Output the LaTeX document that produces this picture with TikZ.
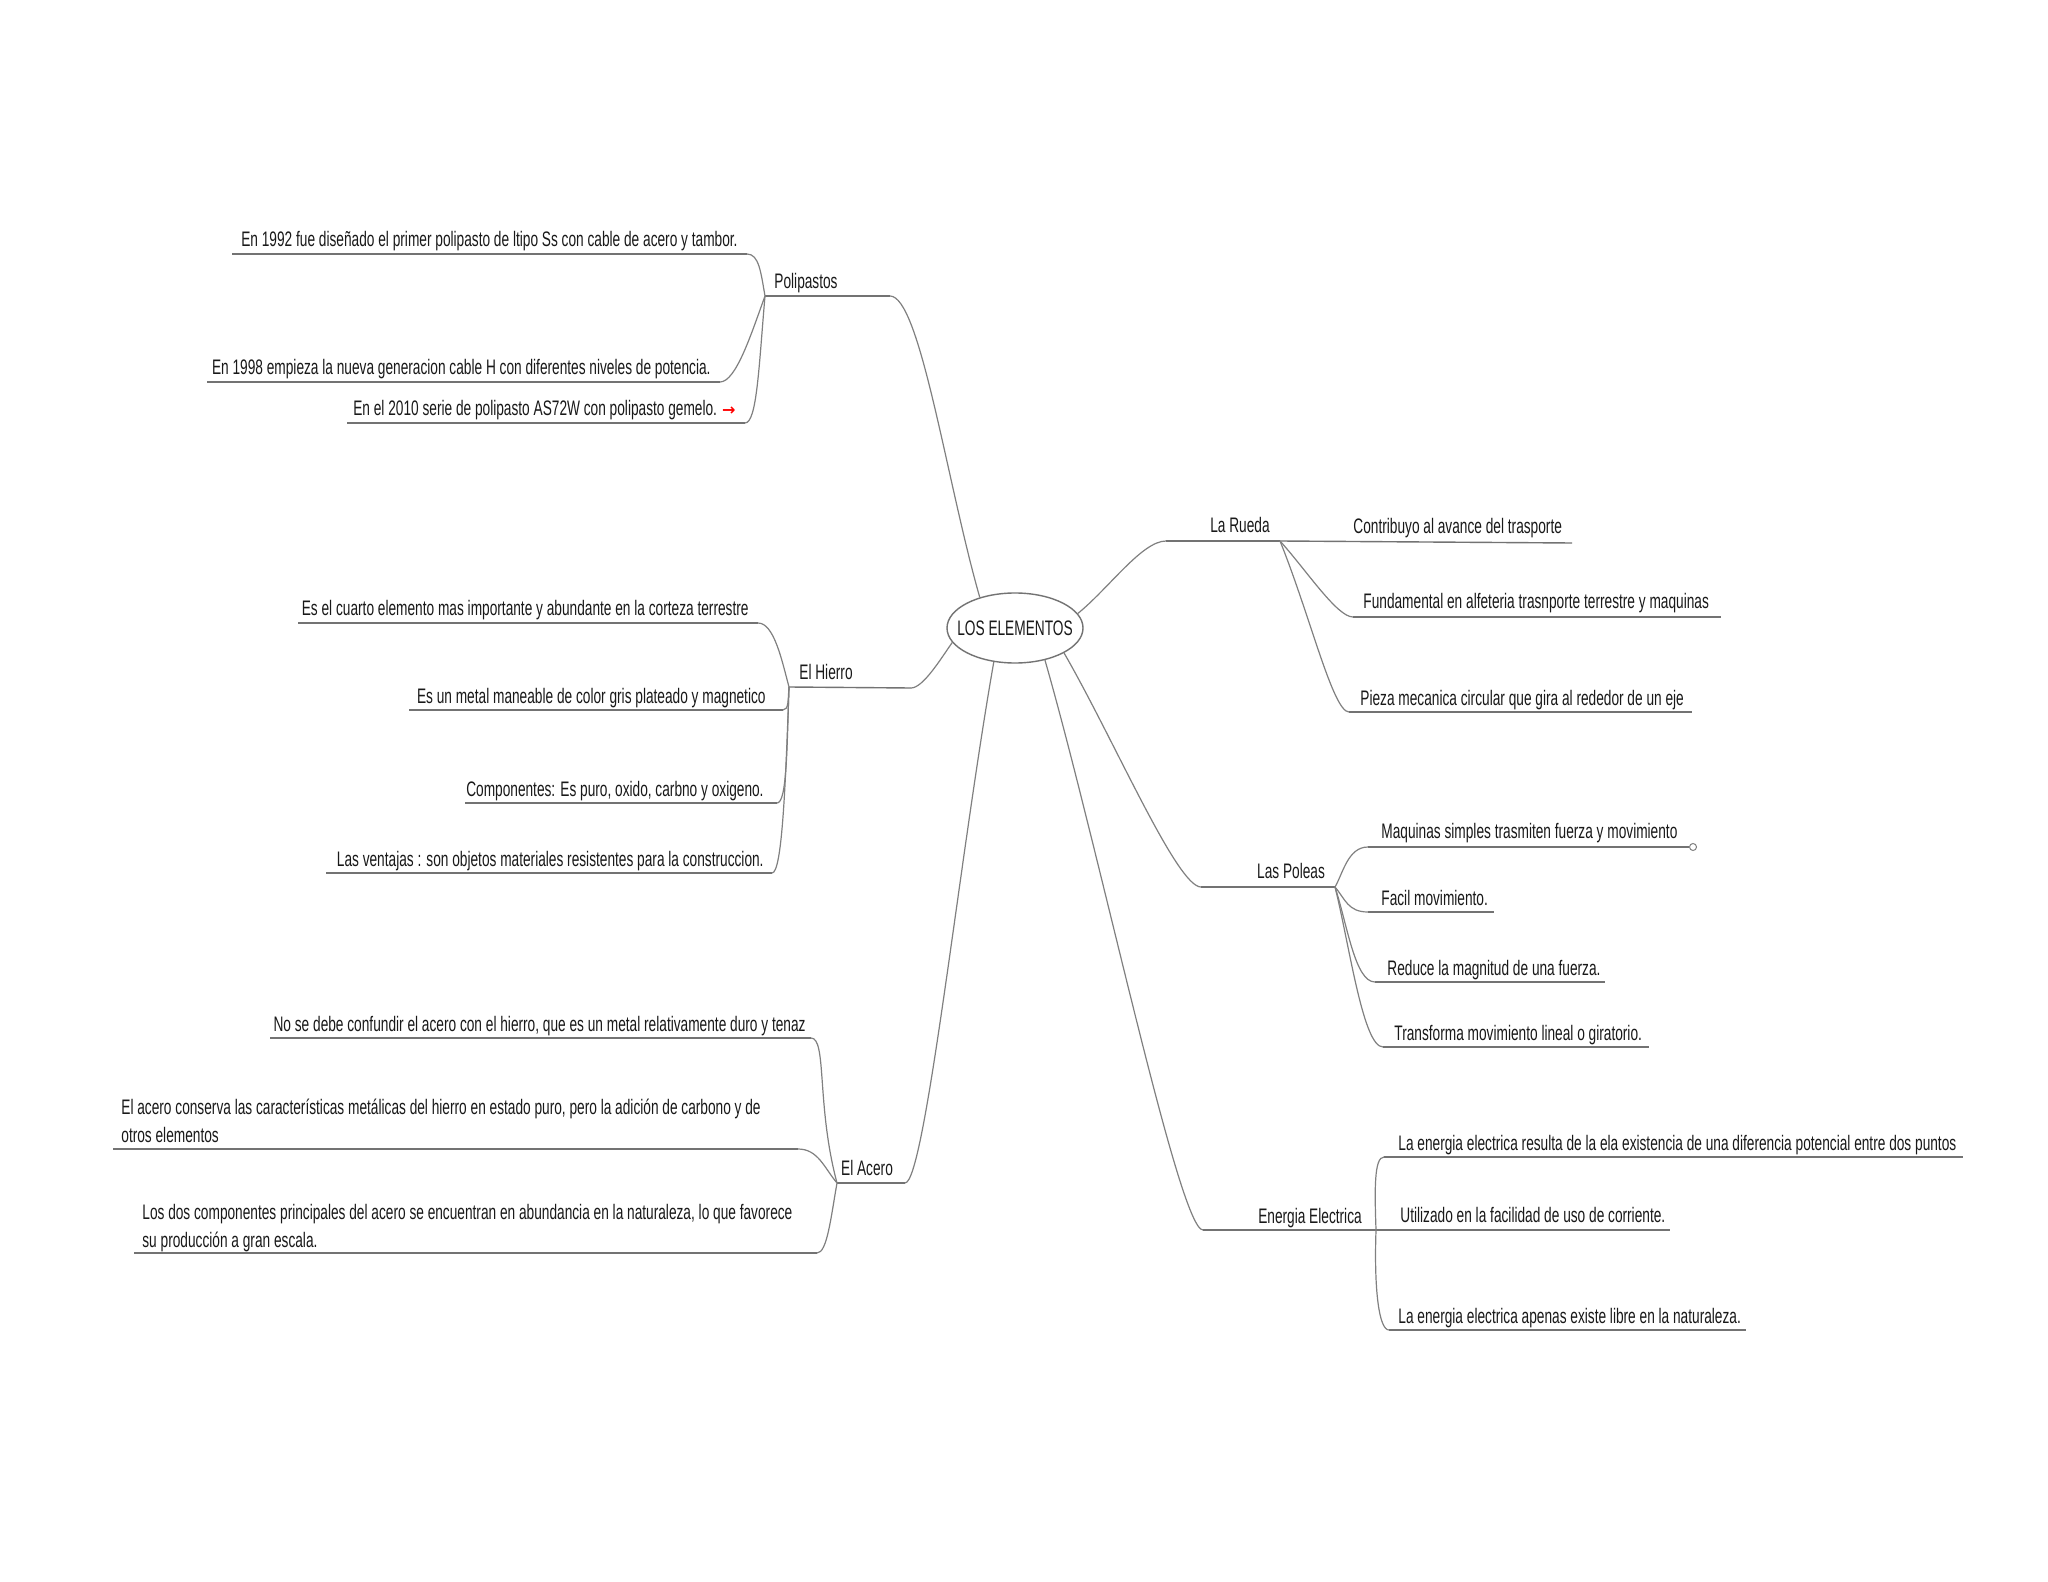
\documentclass[tikz,border=0pt]{standalone}
\usepackage{fontspec}
\setmainfont{Liberation Sans}[FakeStretch=0.652]
\newfontfamily\symfont{DejaVu Sans}
\usetikzlibrary{shapes.geometric}
\begin{document}
\begin{tikzpicture}[x=0.5pt,y=0.5pt,
  conn/.style={draw=black!50, line width=0.6pt},
  uline/.style={draw=black!55, line width=0.7pt},
  txt/.style={inner sep=0pt, text=black!90, font=\fontsize{10.5}{14}\selectfont},
]
\useasboundingbox[fill=white] (0,0) rectangle (2048,-1582);

% central node
\node[ellipse, draw=black!55, line width=0.7pt, minimum width=68pt, minimum height=35pt, inner sep=0pt] (ell) at (1015,-628) {};
\node[txt] (elltxt) at (ell.center) {LOS ELEMENTOS};

% ---------------- Polipastos
\coordinate (polL) at (765,-296); \coordinate (polR) at (890,-296);
\node[txt, anchor=base] (pol) at (806,-289) {Polipastos};
\coordinate (c1L) at (232,-254); \coordinate (c1R) at (747,-254);
\node[txt, anchor=base east] (c1) at (738,-247) {En 1992 fue diseñado el primer polipasto de ltipo Ss con cable de acero y tambor.};
\coordinate (c2L) at (207,-382); \coordinate (c2R) at (720,-382);
\node[txt, anchor=base east] (c2) at (711,-375) {En 1998 empieza la nueva generacion cable H con diferentes niveles de potencia.};
\coordinate (c3L) at (347,-423); \coordinate (c3R) at (745,-423);
\node[txt, anchor=base east] (c3) at (736,-416) {En el 2010 serie de polipasto AS72W con polipasto gemelo. {\symfont\bfseries\fontsize{8}{8}\selectfont\color{red}→}};

% ---------------- El Hierro
\coordinate (hieL) at (789,-687); \coordinate (hieR) at (911,-688);
\node[txt, anchor=base] (hie) at (826,-679) {El Hierro};
\coordinate (h1L) at (298,-623); \coordinate (h1R) at (758,-623);
\node[txt, anchor=base east] (h1) at (749,-616) {Es el cuarto elemento mas importante y abundante en la corteza terrestre};
\coordinate (h2L) at (409,-710); \coordinate (h2R) at (783,-710);
\node[txt, anchor=base east] (h2) at (766,-703) {Es un metal maneable de color gris plateado y magnetico};
\coordinate (h3L) at (465,-803); \coordinate (h3R) at (777,-803);
\node[txt, anchor=base east] (h3) at (764,-796) {Componentes: Es puro, oxido, carbno y oxigeno.};
\coordinate (h4L) at (326,-873); \coordinate (h4R) at (772,-873);
\node[txt, anchor=base east] (h4) at (764,-866) {Las ventajas : son objetos materiales resistentes para la construccion.};

% ---------------- El Acero
\coordinate (acL) at (837,-1183); \coordinate (acR) at (905,-1183);
\node[txt, anchor=base] (ac) at (867,-1175) {El Acero};
\coordinate (a1L) at (270,-1038); \coordinate (a1R) at (811,-1038);
\node[txt, anchor=base east] (a1) at (806,-1031) {No se debe confundir el acero con el hierro, que es un metal relativamente duro y tenaz};
\coordinate (a2L) at (113,-1149); \coordinate (a2R) at (798,-1149);
\node[txt, anchor=base west] (a2) at (121,-1142) {\parbox[b]{420pt}{\raggedright El acero conserva las características metálicas del hierro en estado puro, pero la adición de carbono y de\\otros elementos}};
\coordinate (a3L) at (134,-1253); \coordinate (a3R) at (817,-1253);
\node[txt, anchor=base west] (a3) at (142,-1247) {\parbox[b]{420pt}{\raggedright Los dos componentes principales del acero se encuentran en abundancia en la naturaleza, lo que favorece\\su producción a gran escala.}};

% ---------------- La Rueda
\coordinate (ruL) at (1166,-541); \coordinate (ruR) at (1280,-541);
\node[txt, anchor=base] (ru) at (1240,-533) {La Rueda};
\coordinate (r1R) at (1572,-543);
\node[txt, anchor=base west] (r1) at (1353,-534) {Contribuyo al avance del trasporte};
\coordinate (r2L) at (1353,-617); \coordinate (r2R) at (1721,-617);
\node[txt, anchor=base west] (r2) at (1363,-608) {Fundamental en alfeteria trasnporte terrestre y maquinas};
\coordinate (r3L) at (1349,-712); \coordinate (r3R) at (1692,-712);
\node[txt, anchor=base west] (r3) at (1360,-705) {Pieza mecanica circular que gira al rededor de un eje};

% ---------------- Las Poleas
\coordinate (poL) at (1201,-887); \coordinate (poR) at (1335,-887);
\node[txt, anchor=base] (po) at (1291,-878) {Las Poleas};
\coordinate (p1L) at (1368,-847);
\node[circle, draw=black!50, line width=0.5pt, fill=white, inner sep=0pt, minimum size=3.5pt] (p1end) at (1693,-847) {};
\node[txt, anchor=base west] (p1) at (1381,-838) {Maquinas simples trasmiten fuerza y movimiento};
\coordinate (p2L) at (1368,-912); \coordinate (p2R) at (1494,-912);
\node[txt, anchor=base west] (p2) at (1381,-905) {Facil movimiento.};
\coordinate (p3L) at (1375,-982); \coordinate (p3R) at (1605,-982);
\node[txt, anchor=base west] (p3) at (1387,-975) {Reduce la magnitud de una fuerza.};
\coordinate (p4L) at (1383,-1047); \coordinate (p4R) at (1649,-1047);
\node[txt, anchor=base west] (p4) at (1394,-1040) {Transforma movimiento lineal o giratorio.};

% ---------------- Energia Electrica
\coordinate (enL) at (1203,-1230); \coordinate (enR) at (1376,-1230);
\node[txt, anchor=base] (en) at (1310,-1223) {Energia Electrica};
\coordinate (e1L) at (1384,-1157); \coordinate (e1R) at (1963,-1157);
\node[txt, anchor=base west] (e1) at (1398,-1150) {La energia electrica resulta de la ela existencia de una diferencia potencial entre dos puntos};
\coordinate (e2R) at (1670,-1230);
\node[txt, anchor=base west] (e2) at (1400,-1222) {Utilizado en la facilidad de uso de corriente.};
\coordinate (e3L) at (1389,-1330); \coordinate (e3R) at (1746,-1330);
\node[txt, anchor=base west] (e3) at (1398,-1323) {La energia electrica apenas existe libre en la naturaleza.};

% ---------------- underlines
\foreach \a/\b in {polL/polR, c1L/c1R, c2L/c2R, c3L/c3R, hieL/hieR, h1L/h1R, h2L/h2R, h3L/h3R, h4L/h4R,
  acL/acR, a1L/a1R, a2L/a2R, a3L/a3R, ruL/ruR, ruR/r1R, r2L/r2R, r3L/r3R, poL/poR, p1L/p1end.west,
  p2L/p2R, p3L/p3R, p4L/p4R, enL/enR, e1L/e1R, enR/e2R, e3L/e3R}
  \draw[uline] (\a) -- (\b);

% ---------------- main branches
\draw[conn] (polR) to[out=0,in=106,out distance=15pt,in distance=60pt] (ell.139);
\draw[conn] (hieR) to[out=0,in=235,out distance=6pt,in distance=10pt] (ell.193);
\draw[conn] (acR) to[out=0,in=260,out distance=10pt,in distance=100pt] (ell.238);
\draw[conn] (ell.13) to[out=39,in=180,out distance=20pt,in distance=12pt] (ruL);
\draw[conn] (ell.333) to[out=-60,in=180,out distance=50pt,in distance=12pt] (poL);
\draw[conn] (ell.313) to[out=-74,in=180,out distance=100pt,in distance=12pt] (enL);

% ---------------- sub branches (left)
\draw[conn] (c1R) to[out=0,in=100,out distance=6pt,in distance=12pt] (polL);
\draw[conn] (c2R) to[out=0,in=250,out distance=8pt,in distance=20pt] (polL);
\draw[conn] (c3R) to[out=0,in=265,out distance=6pt,in distance=35pt] (polL);
\draw[conn] (h1R) to[out=0,in=105,out distance=8pt,in distance=14pt] (hieL);
\draw[conn] (h2R) to[out=0,in=265,out distance=3pt,in distance=6pt] (hieL);
\draw[conn] (h3R) to[out=0,in=268,out distance=5pt,in distance=30pt] (hieL);
\draw[conn] (h4R) to[out=0,in=268,out distance=5pt,in distance=50pt] (hieL);
\draw[conn] (a1R) to[out=0,in=105,out distance=8pt,in distance=40pt] (acL);
\draw[conn] (a2R) to[out=0,in=130,out distance=10pt,in distance=10pt] (acL);
\draw[conn] (a3R) to[out=0,in=260,out distance=5pt,in distance=18pt] (acL);

% ---------------- sub branches (right)
\draw[conn] (ruR) to[out=-48,in=180,out distance=20pt,in distance=8pt] (r2L);
\draw[conn] (ruR) to[out=-68,in=180,out distance=40pt,in distance=8pt] (r3L);
\draw[conn] (poR) to[out=60,in=180,out distance=8pt,in distance=10pt] (p1L);
\draw[conn] (poR) to[out=-50,in=180,out distance=8pt,in distance=10pt] (p2L);
\draw[conn] (poR) to[out=-72,in=180,out distance=20pt,in distance=10pt] (p3L);
\draw[conn] (poR) to[out=-76,in=180,out distance=30pt,in distance=10pt] (p4L);
\draw[conn] (enR) to[out=92,in=180,out distance=20pt,in distance=5pt] (e1L);
\draw[conn] (enR) to[out=-92,in=180,out distance=30pt,in distance=5pt] (e3L);
\end{tikzpicture}
\end{document}
